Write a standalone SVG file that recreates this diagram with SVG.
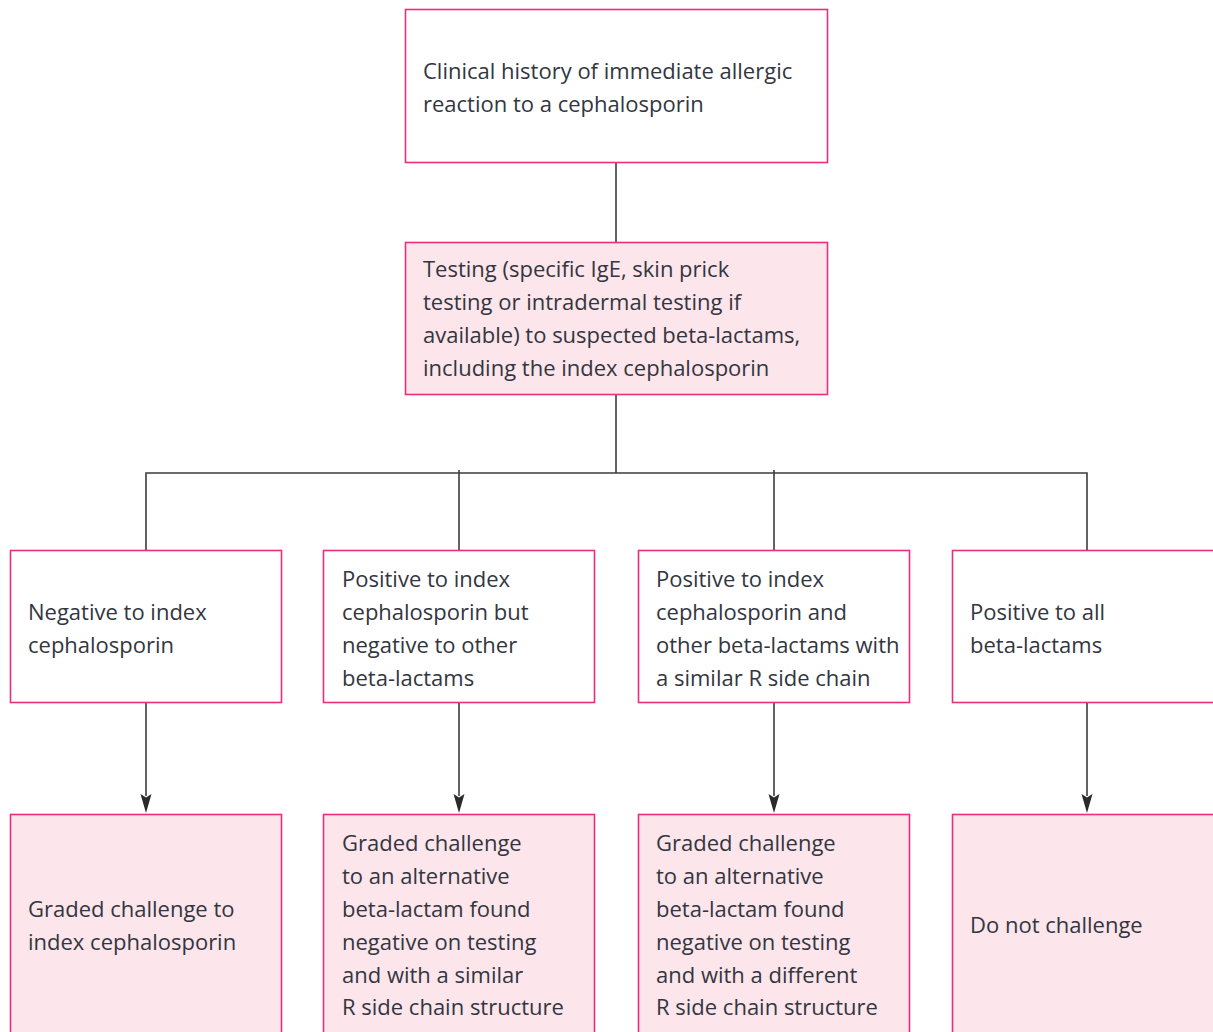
<svg xmlns="http://www.w3.org/2000/svg" width="1213" height="1032" viewBox="0 0 1213 1032">
<defs>
<style>
.box{stroke:#ec2d7e;stroke-width:1.6;}
.w{fill:#ffffff;}
.p{fill:#fce5eb;}
text{font-family:"Open Sans","Noto Sans",sans-serif;font-size:22px;fill:#33363f;}
.c{stroke:#3c3c3c;stroke-width:1.6;fill:none;}
.ah{fill:#2a2a2a;}
</style>
</defs>
<rect width="1213" height="1032" fill="#ffffff"/>
<g id="connectors">
<line class="c" x1="616" y1="163" x2="616" y2="242"/>
<line class="c" x1="616" y1="394" x2="616" y2="473"/>
<polyline class="c" points="146,550 146,473 1087,473 1087,550"/>
<line class="c" x1="459" y1="470" x2="459" y2="550"/>
<line class="c" x1="774" y1="470" x2="774" y2="550"/>
<path class="c" d="M146,702 V796"/>
<path class="c" d="M459,702 V796"/>
<path class="c" d="M774,702 V796"/>
<path class="c" d="M1087,702 V796"/>
<path class="ah" d="M140.5,794 L146,797.5 L151.5,794 L146,813 Z"/>
<path class="ah" d="M453.5,794 L459,797.5 L464.5,794 L459,813 Z"/>
<path class="ah" d="M768.5,794 L774,797.5 L779.5,794 L774,813 Z"/>
<path class="ah" d="M1081.5,794 L1087,797.5 L1092.5,794 L1087,813 Z"/>
</g>
<g id="n1">
<rect class="box w" x="405.5" y="9.5" width="422" height="153"/>
<text x="423" y="79">Clinical history of immediate allergic</text>
<text x="423" y="112">reaction to a cephalosporin</text>
</g>
<g id="n2">
<rect class="box p" x="405.5" y="242.5" width="422" height="152"/>
<text x="423" y="277">Testing (specific IgE, skin prick</text>
<text x="423" y="310">testing or intradermal testing if</text>
<text x="423" y="343">available) to suspected beta-lactams,</text>
<text x="423" y="376">including the index cephalosporin</text>
</g>
<g id="n3">
<rect class="box w" x="10.5" y="550.5" width="271" height="152"/>
<text x="28" y="620">Negative to index</text>
<text x="28" y="653">cephalosporin</text>
</g>
<g id="n4">
<rect class="box w" x="323.5" y="550.5" width="271" height="152"/>
<text x="342" y="587">Positive to index</text>
<text x="342" y="620">cephalosporin but</text>
<text x="342" y="653">negative to other</text>
<text x="342" y="686">beta-lactams</text>
</g>
<g id="n5">
<rect class="box w" x="638.5" y="550.5" width="271" height="152"/>
<text x="656" y="587">Positive to index</text>
<text x="656" y="620">cephalosporin and</text>
<text x="656" y="653">other beta-lactams with</text>
<text x="656" y="686">a similar R side chain</text>
</g>
<g id="n6">
<rect class="box w" x="952.5" y="550.5" width="271" height="152"/>
<text x="970" y="620">Positive to all</text>
<text x="970" y="653">beta-lactams</text>
</g>
<g id="n7">
<rect class="box p" x="10.5" y="814.5" width="271" height="224"/>
<text x="28" y="917">Graded challenge to</text>
<text x="28" y="950">index cephalosporin</text>
</g>
<g id="n8">
<rect class="box p" x="323.5" y="814.5" width="271" height="224"/>
<text x="342" y="851">Graded challenge</text>
<text x="342" y="884">to an alternative</text>
<text x="342" y="917">beta-lactam found</text>
<text x="342" y="950">negative on testing</text>
<text x="342" y="983">and with a similar</text>
<text x="342" y="1015">R side chain structure</text>
</g>
<g id="n9">
<rect class="box p" x="638.5" y="814.5" width="271" height="224"/>
<text x="656" y="851">Graded challenge</text>
<text x="656" y="884">to an alternative</text>
<text x="656" y="917">beta-lactam found</text>
<text x="656" y="950">negative on testing</text>
<text x="656" y="983">and with a different</text>
<text x="656" y="1015">R side chain structure</text>
</g>
<g id="n10">
<rect class="box p" x="952.5" y="814.5" width="271" height="224"/>
<text x="970" y="933">Do not challenge</text>
</g>
</svg>
